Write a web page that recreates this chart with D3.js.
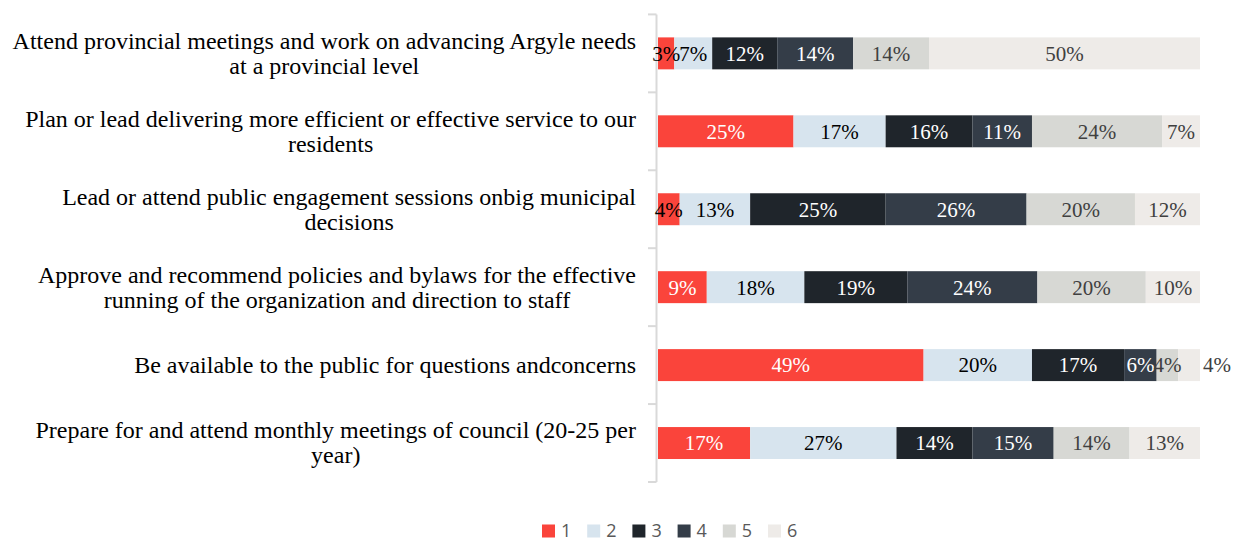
<!DOCTYPE html>
<html><head><meta charset="utf-8">
<script src="https://cdn.jsdelivr.net/npm/d3@7"></script>
<style>body{margin:0;background:#fff}svg{display:block}</style>
</head><body>
<svg id="c" width="1234" height="542"></svg>
<script>
const categories = [
  ["Attend provincial meetings and work on advancing Argyle needs","at a provincial level"],
  ["Plan or lead delivering more efficient or effective service to our","residents"],
  ["Lead or attend public engagement sessions onbig municipal","decisions"],
  ["Approve and recommend policies and bylaws for the effective","running of the organization and direction to staff"],
  ["Be available to the public for questions andconcerns"],
  ["Prepare for and attend monthly meetings of council (20-25 per","year)"]
];
const seriesNames = ["1","2","3","4","5","6"];
const s1 = [3, 25, 4, 9, 49, 17];
const s2 = [7, 17, 13, 18, 20, 27];
const s3 = [12, 16, 25, 19, 17, 14];
const s4 = [14, 11, 26, 24, 6, 15];
const s5 = [14, 24, 20, 20, 4, 14];
const s6 = [50, 7, 12, 10, 4, 13];
const seriesValues = [s1, s2, s3, s4, s5, s6];
const colors = ["#FA443B", "#D7E4EE", "#1F252B", "#343D48", "#D7D8D4", "#EEEBE8"];
const textColors = ["#FFFFFF", "#000000", "#FFFFFF", "#FFFFFF", "#404040", "#404040"];

const svg = d3.select("#c");
const x0 = 658, x1 = 1200, yTop = 14.4, yBot = 482;
const x = d3.scaleLinear().domain([0, 100]).range([x0, x1]);
const y = d3.scaleBand().domain(d3.range(categories.length)).range([yTop, yBot]).paddingInner(0.59).paddingOuter(0.295);
const yTicks = d3.scaleBand().domain(d3.range(categories.length)).range([yTop, yBot]);

// axis
const ax = svg.append("g");
ax.append("line").attr("x1", 656.5).attr("x2", 656.5).attr("y1", yTop).attr("y2", yBot).attr("stroke", "#D9D9D9").attr("stroke-width", 2);
const tickYs = d3.range(categories.length + 1).map(i => i < categories.length ? yTicks(i) : yBot);
ax.selectAll("line.t").data(tickYs).join("line").attr("class","t")
  .attr("x1", 648).attr("x2", 656.5).attr("y1", d => d).attr("y2", d => d)
  .attr("stroke", "#D9D9D9").attr("stroke-width", 2);

// bars
const stackData = categories.map((c, i) => {
  let acc = 0;
  return seriesValues.map((s, k) => { const v = s[i]; const seg = {i, k, v, a: acc, b: acc + v}; acc += v; return seg; });
});
const fontSerif = "'Liberation Serif','Times New Roman',serif";
const g = svg.append("g");
stackData.forEach(row => {
  row.forEach(seg => {
    g.append("rect").attr("x", x(seg.a)).attr("y", y(seg.i))
      .attr("width", x(seg.b) - x(seg.a)).attr("height", y.bandwidth())
      .attr("fill", colors[seg.k]);
  });
});
stackData.forEach(row => {
  row.forEach(seg => {
    const w = x(seg.b) - x(seg.a);
    const t = g.append("text").attr("y", y(seg.i) + y.bandwidth() / 2).attr("dy", "0.35em")
      .attr("font-family", fontSerif).attr("font-size", 21).text(seg.v + "%");
    const tw = t.node().getComputedTextLength();
    let cx = (x(seg.a) + x(seg.b)) / 2;
    let col = textColors[seg.k];
    if (seg.k === seriesValues.length - 1 && tw > w) { cx = x(seg.b) + 3 + tw / 2; col = "#404040"; }
    else if (tw > w && (seg.k === 0)) col = "#000000";
    t.attr("x", cx).attr("text-anchor", "middle").attr("fill", col);
  });
});

// category labels
const lab = svg.append("g");
categories.forEach((lines, i) => {
  const lg = lab.append("g");
  const lh = 25;
  const cy = y(i) + y.bandwidth() / 2 - (lines.length - 1) * lh / 2;
  const ts = lines.map((l, j) => lg.append("text").attr("y", cy + j * lh).attr("dy", "0.33em")
    .attr("font-family", fontSerif).attr("font-size", 24).attr("fill", "#000").attr("text-anchor", "middle").text(l));
  const maxW = d3.max(ts, t => t.node().getComputedTextLength());
  ts.forEach(t => t.attr("x", 636 - maxW / 2));
});

// legend
const leg = svg.append("g");
const legX = d3.scalePoint().domain(seriesNames).range([542, 768]);
seriesNames.forEach((n, k) => {
  leg.append("rect").attr("x", legX(n)).attr("y", 524.5).attr("width", 13).attr("height", 13).attr("fill", colors[k]);
  leg.append("text").attr("x", legX(n) + 19).attr("y", 531).attr("dy", "0.36em")
    .attr("font-family", "'Open Sans','Noto Sans',sans-serif").attr("font-size", 18).attr("fill", "#595959").text(n);
});
</script>
</body></html>
